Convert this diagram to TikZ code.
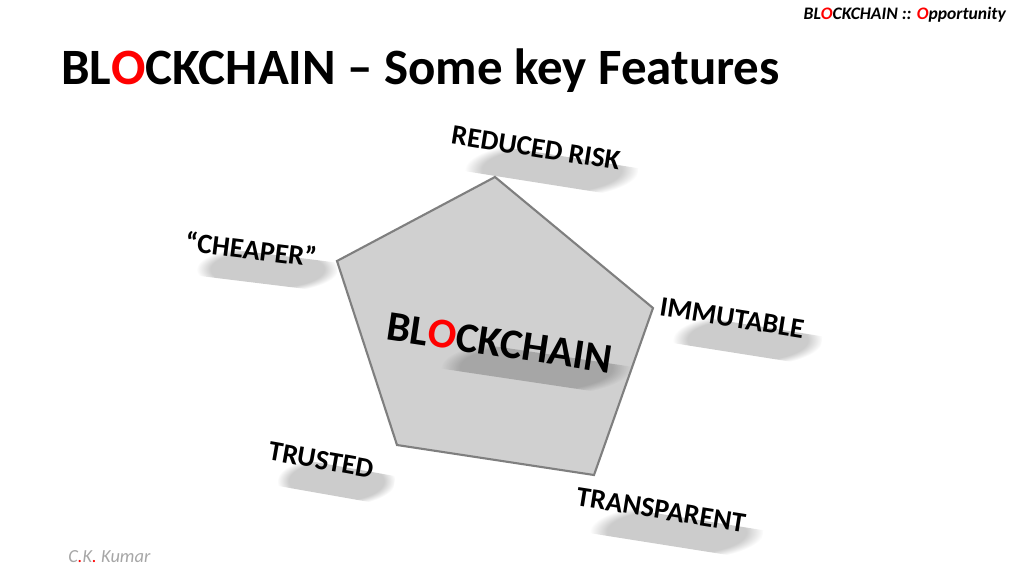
\documentclass[tikz,border=0pt]{standalone}
\usepackage{fontspec}
\setmainfont{Carlito}
\usetikzlibrary{fadings}
\definecolor{chainred}{HTML}{FF0000}
\definecolor{chainfill}{HTML}{D0D0D0}
\definecolor{chainedge}{HTML}{7F7F7F}
\definecolor{authorgrey}{HTML}{A6A6A6}

\newcommand{\redO}{\textcolor{chainred}{O}}
% soft smear under a label: centre x, centre y, half width, angle
\newcommand{\labelshadow}[4]{%
  \begin{scope}[shift={(#1,#2)}, rotate=#4]
    \fill[smear] (-#3+15,2) rectangle (#3+22,32);
  \end{scope}}

\begin{document}
\begin{tikzpicture}[
  x=0.02cm, y=-0.02cm,
  feat/.style={font=\fontsize{16}{18}\selectfont\bfseries, rotate=#1, inner sep=0pt},
  feat/.default=-9,
  smear/.style={fill=black, opacity=0.2, path fading=circle with fuzzy edge 20 percent},
]
\useasboundingbox (0,0) rectangle (1024,576);

% ============ header and footer ============
\node[anchor=base east, font=\fontsize{10}{12}\selectfont\bfseries\itshape]
  (tag) at (1012,19) {BL\redO CKCHAIN :: \textcolor{chainred}{O}pportunity};
\node[anchor=base west, font=\fontsize{29}{34}\selectfont\bfseries, inner sep=0pt]
  (title) at (61,84) {BL\redO CKCHAIN – Some key Features};
\node[anchor=base west, text=authorgrey, font=\fontsize{10.5}{12}\selectfont\itshape, inner sep=0pt]
  (author) at (68,562) {C\textcolor{chainred}{.}K\textcolor{chainred}{.} Kumar};

% ============ pentagon ============
\coordinate (ptop) at (495,177);
\coordinate (pright) at (653,308);
\coordinate (pbotr) at (594,475);
\coordinate (pbotl) at (397,445);
\coordinate (pleft) at (337,261);
\draw[chainedge, fill=chainfill, line width=1.2pt]
  (ptop) -- (pright) -- (pbotr) -- (pbotl) -- (pleft) -- cycle;

% hub text
\labelshadow{520}{348}{90}{-8.5}
\node[font=\fontsize{24}{28}\selectfont\bfseries, rotate=-8.5, inner sep=0pt]
  (hub) at (500,343) {BL\redO CKCHAIN};

% ============ features round it ============
\labelshadow{536}{150}{82}{-9}
\node[feat] (risk) at (536,148) {REDUCED RISK};
\labelshadow{251}{250}{66}{-7}
\node[feat=-7] (cheap) at (251,249) {“CHEAPER”};
\labelshadow{732}{320}{70}{-9}
\node[feat] (immut) at (732,318) {IMMUTABLE};
\labelshadow{321}{461}{54}{-10}
\node[feat=-10] (trust) at (321,460) {TRUSTED};
\labelshadow{661}{512}{82}{-9}
\node[feat] (transp) at (661,510) {TRANSPARENT};

\end{tikzpicture}
\end{document}
